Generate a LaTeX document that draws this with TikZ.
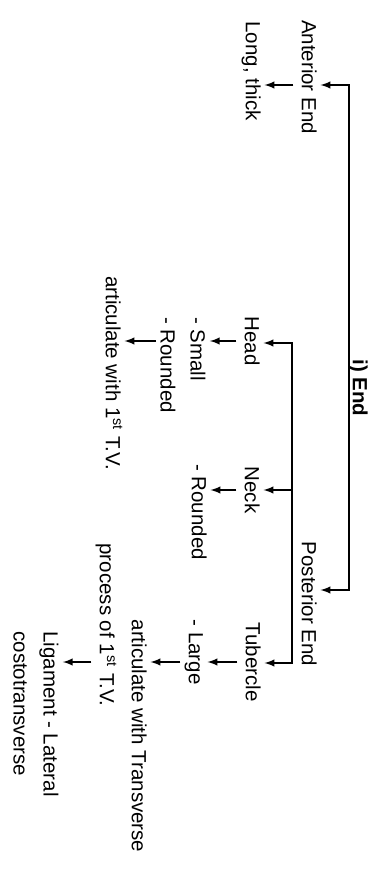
\documentclass[tikz,border=0pt]{standalone}
\usepackage{fontspec}
\setmainfont{Liberation Sans}

\begin{document}
\begin{tikzpicture}[x=0.5pt, y=-0.5pt,
    lbl/.style={rotate=-90, inner sep=2pt, align=left, font=\fontsize{10.25}{15}\selectfont},
    sline/.style={text height=0.72em, text depth=0.2em},
    arr/.style={-latex, line width=0.7pt}]
    \useasboundingbox (0,0) rectangle (390,876);
    % Title and the two ends
    \node[lbl, sline, font=\fontsize{10.25}{15}\selectfont\bfseries] (title) at (358,388) {i) End};
    \node[lbl, sline] (ant) at (307,77) {Anterior End};
    \node[lbl, sline] (long) at (251,71) {Long, thick};
    \node[lbl, sline] (post) at (307,604) {Posterior End};
    % Parts of the posterior end
    \node[lbl, sline] (head) at (250,341) {Head};
    \node[lbl, sline] (neck) at (250,490) {Neck};
    \node[lbl, sline] (tub) at (251,662) {Tubercle};
    \node[lbl] (small) at (183,365) {- Small\\- Rounded};
    \node[lbl, sline] (headart) at (111,373) {articulate with 1\textsuperscript{st} T.V.};
    \node[lbl, sline] (round) at (197,512) {- Rounded};
    \node[lbl, sline] (large) at (194,652) {- Large};
    \node[lbl, sline] (tubart) at (137,736) {articulate with Transverse};
    \node[lbl, sline] (proc) at (105,625) {process of 1\textsuperscript{st} T.V.};
    \node[lbl] (lig) at (36,714) {Ligament - Lateral\\costotransverse};
    % Main bar
    \coordinate (stemA) at (349,85);
    \coordinate (stemP) at (349,590);
    \draw[arr, latex-latex] (stemA -| ant.north) -- (stemA) -- (stemP) -- (stemP -| post.north);
    \draw[arr] (ant.south |- stemA) -- (long.north |- stemA);
    % Posterior bar
    \coordinate (ph) at (292,343);
    \coordinate (pt) at (292,663);
    \draw[arr, latex-latex] (ph -| head.north) -- (ph) -- (pt) -- (pt -| tub.north);
    \draw[arr] (neck.north -| ph) -- (neck.north);
    % Leaves
    \draw[arr] (head.south) -- (head.south -| small.north);
    \draw[arr] (small.south |- head.south) -- (headart.north |- head.south);
    \draw[arr] (neck.south) -- (neck.south -| round.north);
    \draw[arr] (tub.south) -- (tub.south -| large.north);
    \draw[arr] (large.south |- tub.south) -- (tub.south -| tubart.north);
    \draw[arr] (proc.south |- tub.south) -- (tub.south -| lig.north);
\end{tikzpicture}
\end{document}
